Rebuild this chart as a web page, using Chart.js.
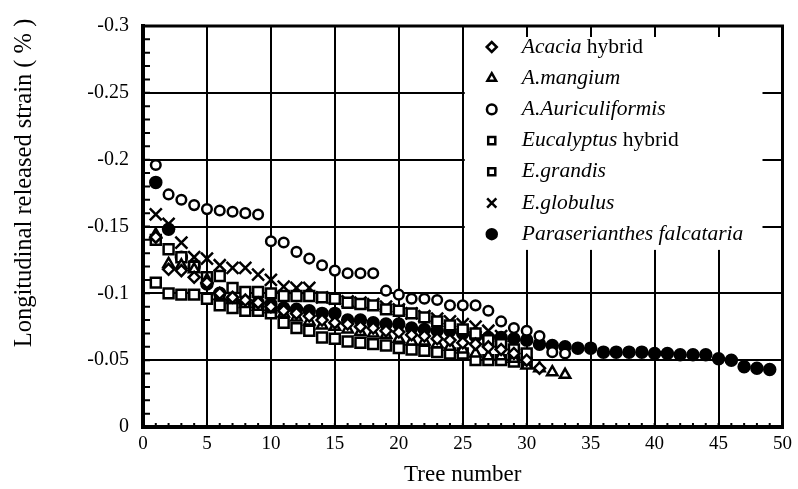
<!DOCTYPE html>
<html>
<head>
<meta charset="utf-8">
<script src="https://cdn.jsdelivr.net/npm/chart.js@4.4.0/dist/chart.umd.min.js"></script>
<style>
  html, body { margin: 0; padding: 0; background: #fff; }
  #wrap { width: 798px; height: 489px; }
</style>
</head>
<body>
<div id="wrap"><canvas id="strainChart"></canvas></div>
<script>
// released strain (%) per tree
const acaciaHybrid = [-0.142, -0.118, -0.117, -0.112, -0.108, -0.100, -0.097, -0.095, -0.093, -0.090,
  -0.087, -0.085, -0.083, -0.080, -0.078, -0.077, -0.075, -0.074, -0.072, -0.071,
  -0.069, -0.068, -0.066, -0.065, -0.063, -0.062, -0.060, -0.058, -0.055, -0.050, -0.044];
const aMangium = [-0.144, -0.122, -0.121, -0.118, -0.110, -0.098, -0.095, -0.092, -0.090, -0.088,
  -0.085, -0.082, -0.079, -0.076, -0.075, -0.073, -0.071, -0.070, -0.069, -0.066,
  -0.064, -0.064, -0.062, -0.060, -0.058, -0.055, -0.053, -0.053, -0.051, -0.046,
  -0.044, -0.041, -0.039];
const aAuriculiformis = [-0.196, -0.174, -0.170, -0.166, -0.163, -0.162, -0.161, -0.160, -0.159, -0.139,
  -0.138, -0.131, -0.126, -0.121, -0.117, -0.115, -0.115, -0.115, -0.102, -0.099,
  -0.096, -0.096, -0.095, -0.091, -0.091, -0.091, -0.087, -0.079, -0.074, -0.072,
  -0.068, -0.056, -0.055];
const eucalyptusHybrid = [-0.108, -0.100, -0.099, -0.099, -0.096, -0.091, -0.089, -0.087, -0.087, -0.085,
  -0.078, -0.074, -0.072, -0.067, -0.066, -0.064, -0.063, -0.062, -0.061, -0.059,
  -0.058, -0.057, -0.056, -0.055, -0.055, -0.050, -0.050, -0.050, -0.049, -0.048];
const eGrandis = [-0.140, -0.133, -0.127, -0.120, -0.112, -0.113, -0.104, -0.101, -0.101, -0.100,
  -0.098, -0.098, -0.098, -0.097, -0.096, -0.093, -0.092, -0.091, -0.088, -0.087,
  -0.085, -0.082, -0.079, -0.076, -0.073, -0.070, -0.065, -0.062, -0.058, -0.055];
const eGlobulus = [-0.159, -0.152, -0.138, -0.127, -0.126, -0.121, -0.119, -0.119, -0.114, -0.110,
  -0.105, -0.104, -0.104, -0.097, -0.096, -0.094, -0.093, -0.092, -0.090, -0.088,
  -0.085, -0.083, -0.081, -0.079, -0.077, -0.075, -0.072, -0.068, -0.062];
const pFalcataria = [-0.183, -0.148, -0.127, -0.120, -0.107, -0.100, -0.095, -0.093, -0.093, -0.092,
  -0.089, -0.088, -0.087, -0.085, -0.085, -0.080, -0.080, -0.078, -0.077, -0.077,
  -0.074, -0.073, -0.072, -0.072, -0.070, -0.068, -0.067, -0.067, -0.066, -0.065,
  -0.062, -0.061, -0.060, -0.059, -0.059, -0.056, -0.056, -0.056, -0.056, -0.055,
  -0.055, -0.054, -0.054, -0.054, -0.051, -0.050, -0.045, -0.044, -0.043];

const xTicks = [0, 5, 10, 15, 20, 25, 30, 35, 40, 45, 50];
const yTicks = [-0.3, -0.25, -0.2, -0.15, -0.1, -0.05, 0];

// legend text, [text, italic]
const legendParts = [
  [['Acacia', true], [' hybrid', false]],
  [['A.mangium', true]],
  [['A.Auriculiformis', true]],
  [['Eucalyptus', true], [' hybrid', false]],
  [['E.grandis', true]],
  [['E.globulus', true]],
  [['Paraserianthes falcataria', true]]
];
const yTitle = 'Longitudinal released strain ( % )';

const SERIF = '"Liberation Serif", "Times New Roman", serif';

// tree number starts at 1 for every series
function toPoints(vals) {
  return vals.map((v, i) => ({ x: i + 1, y: v }));
}

function series(label, vals, style, radius, filled) {
  return {
    label: label,
    data: toPoints(vals),
    pointStyle: style,
    pointRadius: radius,
    pointHoverRadius: radius,
    borderWidth: 2.5,
    borderColor: '#000',
    backgroundColor: filled ? '#000' : '#fff',
    showLine: false
  };
}

const datasets = [
  series('Acacia hybrid', acaciaHybrid, 'rectRot', 5.5, false),
  series('A.mangium', aMangium, 'triangle', 6, false),
  series('A.Auriculiformis', aAuriculiformis, 'circle', 4.8, false),
  series('Eucalyptus hybrid', eucalyptusHybrid, 'rect', 7, false),
  series('E.grandis', eGrandis, 'rect', 7, false),
  series('E.globulus', eGlobulus, 'crossRot', 8.5, false),
  series('Paraserianthes falcataria', pFalcataria, 'circle', 5.5, true)
];

// grid cover for the legend, minor ticks, frame, y title and the legend itself
const framePlugin = {
  id: 'frame',
  beforeDatasetsDraw(chart) {
    const { ctx, chartArea: a, scales: { x, y } } = chart;
    ctx.save();
    const bx = x.getPixelForValue(25) + 2;
    const by = a.top + 11;
    ctx.fillStyle = '#fff';
    ctx.fillRect(bx, by, a.right - 20 - bx, y.getPixelForValue(-0.1325) - by);

    ctx.strokeStyle = '#000';
    ctx.lineWidth = 2;
    ctx.beginPath();
    for (let i = 1; i < 30; i++) {
      const py = y.getPixelForValue(-i / 100);
      ctx.moveTo(a.left, py);
      ctx.lineTo(a.left + 7, py);
    }
    for (let i = 1; i < 50; i++) {
      const px = x.getPixelForValue(i);
      ctx.moveTo(px, a.bottom);
      ctx.lineTo(px, a.bottom - 4);
    }
    ctx.stroke();
    ctx.lineWidth = 3;
    ctx.strokeRect(a.left, a.top, a.right - a.left, a.bottom - a.top);

    // y axis title, placed like the original (above plot centre)
    ctx.translate(25, 183);
    ctx.rotate(-Math.PI / 2);
    ctx.fillStyle = '#000';
    ctx.font = '24.5px ' + SERIF;
    ctx.textAlign = 'center';
    ctx.textBaseline = 'middle';
    ctx.fillText(yTitle, 0, 0);
    ctx.restore();
  },
  afterDraw(chart) {
    const { ctx, chartArea: a, scales: { x } } = chart;
    const mx = x.getPixelForValue(25) + 29;
    const tx = mx + 30;
    ctx.save();
    ctx.textBaseline = 'middle';
    chart.data.datasets.forEach((ds, i) => {
      const ry = a.top + 21 + i * 31.2;
      ctx.strokeStyle = '#000';
      ctx.fillStyle = ds.backgroundColor;
      ctx.lineWidth = 2.5;
      const r = ds.pointStyle === 'crossRot' ? 6.5 : Math.min(ds.pointRadius, 5);
      Chart.helpers.drawPoint(ctx, { pointStyle: ds.pointStyle, rotation: 0, radius: r, borderWidth: 2.5 }, mx, ry);
      ctx.fillStyle = '#000';
      let cx = tx;
      legendParts[i].forEach(([txt, it]) => {
        ctx.font = (it ? 'italic ' : '') + '21.5px ' + SERIF;
        ctx.fillText(txt, cx, ry);
        cx += ctx.measureText(txt).width;
      });
    });
    ctx.restore();
  }
};

const ctx = document.getElementById('strainChart').getContext('2d');
new Chart(ctx, {
  type: 'scatter',
  data: { datasets: datasets },
  plugins: [framePlugin],
  options: {
    responsive: true,
    maintainAspectRatio: false,
    animation: false,
    layout: { padding: { top: 22, right: 11, left: 0, bottom: 0 } },
    plugins: { legend: { display: false }, tooltip: { enabled: false } },
    scales: {
      x: {
        type: 'linear',
        min: 0,
        max: 50,
        afterBuildTicks: s => { s.ticks = xTicks.map(v => ({ value: v })); },
        afterFit: s => { s.height = 62; },
        grid: { color: '#000', lineWidth: 2, drawTicks: false },
        border: { color: '#000', width: 4 },
        ticks: { color: '#000', padding: 6, font: { family: SERIF, size: 19 } },
        title: {
          display: true,
          text: 'Tree number',
          color: '#000',
          padding: { top: 0, bottom: 0 },
          font: { family: SERIF, size: 23 }
        }
      },
      y: {
        type: 'linear',
        min: -0.3,
        max: 0,
        reverse: true,
        afterBuildTicks: s => { s.ticks = yTicks.map(v => ({ value: v })); },
        afterFit: s => { s.width = 143; },
        grid: { color: '#000', lineWidth: 2, drawTicks: false },
        border: { color: '#000', width: 4 },
        ticks: {
          color: '#000',
          padding: 14,
          font: { family: SERIF, size: 20 },
          callback: v => String(Number(v.toFixed(2)))
        },
        title: { display: false }
      }
    }
  }
});
</script>
</body>
</html>
